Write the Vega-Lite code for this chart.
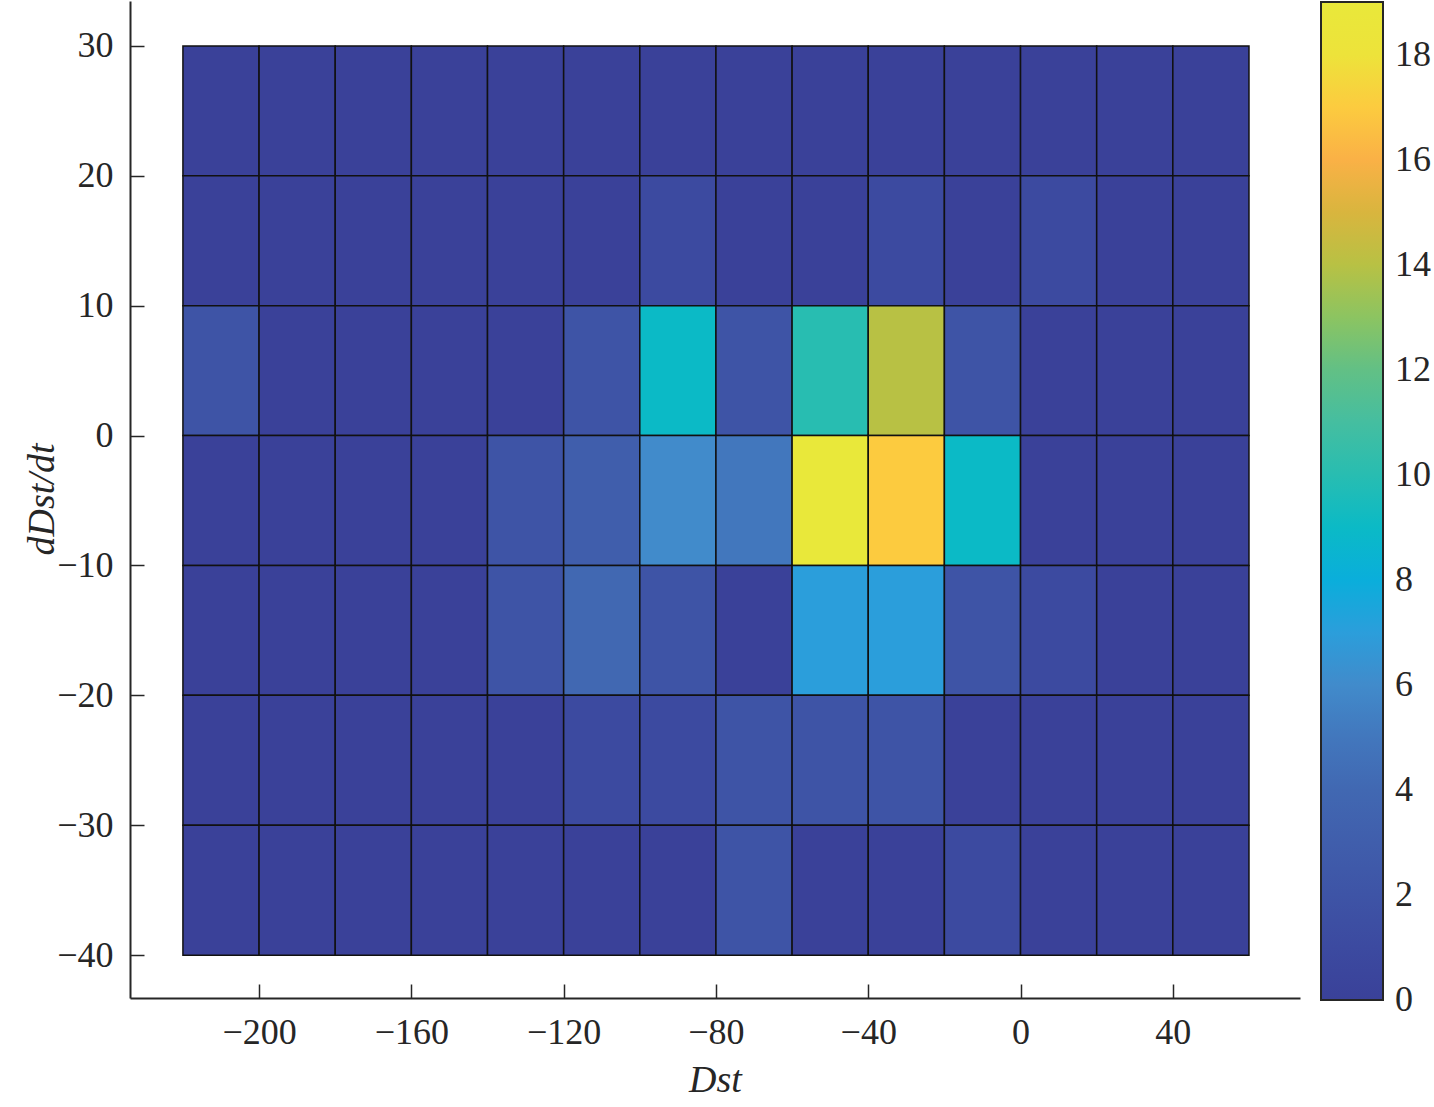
{
  "$schema": "https://vega.github.io/schema/vega-lite/v6.json",
  "autosize": "none",
  "width": 1170,
  "height": 997,
  "padding": {"left": 130, "top": 1, "right": 134, "bottom": 109},
  "background": "white",
  "config": {"view": {"stroke": null}, "font": "Liberation Serif"},
  "data": {"values": [
    {"x0": -220, "x1": -200, "y0": 20, "y1": 30, "count": 0},
    {"x0": -200, "x1": -180, "y0": 20, "y1": 30, "count": 0},
    {"x0": -180, "x1": -160, "y0": 20, "y1": 30, "count": 0},
    {"x0": -160, "x1": -140, "y0": 20, "y1": 30, "count": 0},
    {"x0": -140, "x1": -120, "y0": 20, "y1": 30, "count": 0},
    {"x0": -120, "x1": -100, "y0": 20, "y1": 30, "count": 0},
    {"x0": -100, "x1": -80, "y0": 20, "y1": 30, "count": 0},
    {"x0": -80, "x1": -60, "y0": 20, "y1": 30, "count": 0},
    {"x0": -60, "x1": -40, "y0": 20, "y1": 30, "count": 0},
    {"x0": -40, "x1": -20, "y0": 20, "y1": 30, "count": 0},
    {"x0": -20, "x1": 0, "y0": 20, "y1": 30, "count": 0},
    {"x0": 0, "x1": 20, "y0": 20, "y1": 30, "count": 0},
    {"x0": 20, "x1": 40, "y0": 20, "y1": 30, "count": 0},
    {"x0": 40, "x1": 60, "y0": 20, "y1": 30, "count": 0},

    {"x0": -220, "x1": -200, "y0": 10, "y1": 20, "count": 0},
    {"x0": -200, "x1": -180, "y0": 10, "y1": 20, "count": 0},
    {"x0": -180, "x1": -160, "y0": 10, "y1": 20, "count": 0},
    {"x0": -160, "x1": -140, "y0": 10, "y1": 20, "count": 0},
    {"x0": -140, "x1": -120, "y0": 10, "y1": 20, "count": 0},
    {"x0": -120, "x1": -100, "y0": 10, "y1": 20, "count": 0},
    {"x0": -100, "x1": -80, "y0": 10, "y1": 20, "count": 1},
    {"x0": -80, "x1": -60, "y0": 10, "y1": 20, "count": 0},
    {"x0": -60, "x1": -40, "y0": 10, "y1": 20, "count": 0},
    {"x0": -40, "x1": -20, "y0": 10, "y1": 20, "count": 1},
    {"x0": -20, "x1": 0, "y0": 10, "y1": 20, "count": 0},
    {"x0": 0, "x1": 20, "y0": 10, "y1": 20, "count": 1},
    {"x0": 20, "x1": 40, "y0": 10, "y1": 20, "count": 0},
    {"x0": 40, "x1": 60, "y0": 10, "y1": 20, "count": 0},

    {"x0": -220, "x1": -200, "y0": 0, "y1": 10, "count": 2},
    {"x0": -200, "x1": -180, "y0": 0, "y1": 10, "count": 0},
    {"x0": -180, "x1": -160, "y0": 0, "y1": 10, "count": 0},
    {"x0": -160, "x1": -140, "y0": 0, "y1": 10, "count": 0},
    {"x0": -140, "x1": -120, "y0": 0, "y1": 10, "count": 0},
    {"x0": -120, "x1": -100, "y0": 0, "y1": 10, "count": 2},
    {"x0": -100, "x1": -80, "y0": 0, "y1": 10, "count": 9},
    {"x0": -80, "x1": -60, "y0": 0, "y1": 10, "count": 2},
    {"x0": -60, "x1": -40, "y0": 0, "y1": 10, "count": 10},
    {"x0": -40, "x1": -20, "y0": 0, "y1": 10, "count": 14},
    {"x0": -20, "x1": 0, "y0": 0, "y1": 10, "count": 2},
    {"x0": 0, "x1": 20, "y0": 0, "y1": 10, "count": 0},
    {"x0": 20, "x1": 40, "y0": 0, "y1": 10, "count": 0},
    {"x0": 40, "x1": 60, "y0": 0, "y1": 10, "count": 0},

    {"x0": -220, "x1": -200, "y0": -10, "y1": 0, "count": 0},
    {"x0": -200, "x1": -180, "y0": -10, "y1": 0, "count": 0},
    {"x0": -180, "x1": -160, "y0": -10, "y1": 0, "count": 0},
    {"x0": -160, "x1": -140, "y0": -10, "y1": 0, "count": 0},
    {"x0": -140, "x1": -120, "y0": -10, "y1": 0, "count": 2},
    {"x0": -120, "x1": -100, "y0": -10, "y1": 0, "count": 3},
    {"x0": -100, "x1": -80, "y0": -10, "y1": 0, "count": 6},
    {"x0": -80, "x1": -60, "y0": -10, "y1": 0, "count": 5},
    {"x0": -60, "x1": -40, "y0": -10, "y1": 0, "count": 19},
    {"x0": -40, "x1": -20, "y0": -10, "y1": 0, "count": 17},
    {"x0": -20, "x1": 0, "y0": -10, "y1": 0, "count": 9},
    {"x0": 0, "x1": 20, "y0": -10, "y1": 0, "count": 0},
    {"x0": 20, "x1": 40, "y0": -10, "y1": 0, "count": 0},
    {"x0": 40, "x1": 60, "y0": -10, "y1": 0, "count": 0},

    {"x0": -220, "x1": -200, "y0": -20, "y1": -10, "count": 0},
    {"x0": -200, "x1": -180, "y0": -20, "y1": -10, "count": 0},
    {"x0": -180, "x1": -160, "y0": -20, "y1": -10, "count": 0},
    {"x0": -160, "x1": -140, "y0": -20, "y1": -10, "count": 0},
    {"x0": -140, "x1": -120, "y0": -20, "y1": -10, "count": 2},
    {"x0": -120, "x1": -100, "y0": -20, "y1": -10, "count": 4},
    {"x0": -100, "x1": -80, "y0": -20, "y1": -10, "count": 2},
    {"x0": -80, "x1": -60, "y0": -20, "y1": -10, "count": 0},
    {"x0": -60, "x1": -40, "y0": -20, "y1": -10, "count": 7},
    {"x0": -40, "x1": -20, "y0": -20, "y1": -10, "count": 7},
    {"x0": -20, "x1": 0, "y0": -20, "y1": -10, "count": 2},
    {"x0": 0, "x1": 20, "y0": -20, "y1": -10, "count": 1},
    {"x0": 20, "x1": 40, "y0": -20, "y1": -10, "count": 0},
    {"x0": 40, "x1": 60, "y0": -20, "y1": -10, "count": 0},

    {"x0": -220, "x1": -200, "y0": -30, "y1": -20, "count": 0},
    {"x0": -200, "x1": -180, "y0": -30, "y1": -20, "count": 0},
    {"x0": -180, "x1": -160, "y0": -30, "y1": -20, "count": 0},
    {"x0": -160, "x1": -140, "y0": -30, "y1": -20, "count": 0},
    {"x0": -140, "x1": -120, "y0": -30, "y1": -20, "count": 0},
    {"x0": -120, "x1": -100, "y0": -30, "y1": -20, "count": 1},
    {"x0": -100, "x1": -80, "y0": -30, "y1": -20, "count": 1},
    {"x0": -80, "x1": -60, "y0": -30, "y1": -20, "count": 2},
    {"x0": -60, "x1": -40, "y0": -30, "y1": -20, "count": 2},
    {"x0": -40, "x1": -20, "y0": -30, "y1": -20, "count": 2},
    {"x0": -20, "x1": 0, "y0": -30, "y1": -20, "count": 0},
    {"x0": 0, "x1": 20, "y0": -30, "y1": -20, "count": 0},
    {"x0": 20, "x1": 40, "y0": -30, "y1": -20, "count": 0},
    {"x0": 40, "x1": 60, "y0": -30, "y1": -20, "count": 0},

    {"x0": -220, "x1": -200, "y0": -40, "y1": -30, "count": 0},
    {"x0": -200, "x1": -180, "y0": -40, "y1": -30, "count": 0},
    {"x0": -180, "x1": -160, "y0": -40, "y1": -30, "count": 0},
    {"x0": -160, "x1": -140, "y0": -40, "y1": -30, "count": 0},
    {"x0": -140, "x1": -120, "y0": -40, "y1": -30, "count": 0},
    {"x0": -120, "x1": -100, "y0": -40, "y1": -30, "count": 0},
    {"x0": -100, "x1": -80, "y0": -40, "y1": -30, "count": 0},
    {"x0": -80, "x1": -60, "y0": -40, "y1": -30, "count": 2},
    {"x0": -60, "x1": -40, "y0": -40, "y1": -30, "count": 0},
    {"x0": -40, "x1": -20, "y0": -40, "y1": -30, "count": 0},
    {"x0": -20, "x1": 0, "y0": -40, "y1": -30, "count": 1},
    {"x0": 0, "x1": 20, "y0": -40, "y1": -30, "count": 0},
    {"x0": 20, "x1": 40, "y0": -40, "y1": -30, "count": 0},
    {"x0": 40, "x1": 60, "y0": -40, "y1": -30, "count": 0}
  ]},
  "mark": {"type": "rect", "stroke": "#111111", "strokeWidth": 1.5},
  "encoding": {
    "x": {
      "field": "x0", "type": "quantitative",
      "scale": {"domain": [-233.9, 73.4], "nice": false, "zero": false},
      "axis": {
        "values": [-200, -160, -120, -80, -40, 0, 40],
        "grid": false,
        "tickSize": -14, "tickWidth": 1.5, "tickColor": "#262626",
        "domainColor": "#262626", "domainWidth": 2,
        "labelFontSize": 36, "labelColor": "#262626", "labelPadding": 31,
        "labelFlush": false,
        "title": "Dst", "titleFontSize": 38, "titleFontStyle": "italic", "titleFontWeight": "normal",
        "titleColor": "#262626", "titleBaseline": "middle", "titleY": 82
      }
    },
    "x2": {"field": "x1"},
    "y": {
      "field": "y0", "type": "quantitative",
      "scale": {"domain": [-43.3, 33.46], "nice": false, "zero": false},
      "axis": {
        "values": [-40, -30, -20, -10, 0, 10, 20, 30],
        "grid": false,
        "tickSize": -14, "tickWidth": 1.5, "tickColor": "#262626",
        "domainColor": "#262626", "domainWidth": 2,
        "labelFontSize": 36, "labelColor": "#262626", "labelPadding": 31,
        "labelFlush": false,
        "title": "dDst/dt", "titleFontSize": 38, "titleFontStyle": "italic", "titleFontWeight": "normal",
        "titleColor": "#262626", "titleBaseline": "middle", "titleAngle": -90,
        "titleX": -88, "titleY": 498
      }
    },
    "y2": {"field": "y1"},
    "color": {
      "field": "count", "type": "quantitative",
      "scale": {
        "domain": [0, 1, 2, 3, 4, 5, 6, 7, 8, 9, 10, 11, 12, 13, 14, 15, 16, 17, 18, 19],
        "range": ["#3a4199", "#3c4aa0", "#3e54a6", "#405eac", "#4168b2", "#4277bd", "#418bcb", "#2b9edb", "#0aaedb", "#0bbac6", "#28bdb1", "#45bea0", "#62c085", "#8cc461", "#b8c144", "#d9b53e", "#fab146", "#fccb3f", "#ede33a", "#e9e83a"]
      },
      "legend": {
        "orient": "none", "legendX": 1191, "legendY": 1,
        "direction": "vertical",
        "gradientLength": 998, "gradientThickness": 62,
        "gradientStrokeColor": "#262626", "gradientStrokeWidth": 2,
        "title": null,
        "values": [0, 2, 4, 6, 8, 10, 12, 14, 16, 18],
        "labelFontSize": 36, "labelColor": "#262626", "labelOffset": 12,
        "labelBaseline": "middle", "labelOverlap": false,
        "encode": {"labels": {"update": {"baseline": {"value": "middle"}}}}
      }
    }
  }
}
